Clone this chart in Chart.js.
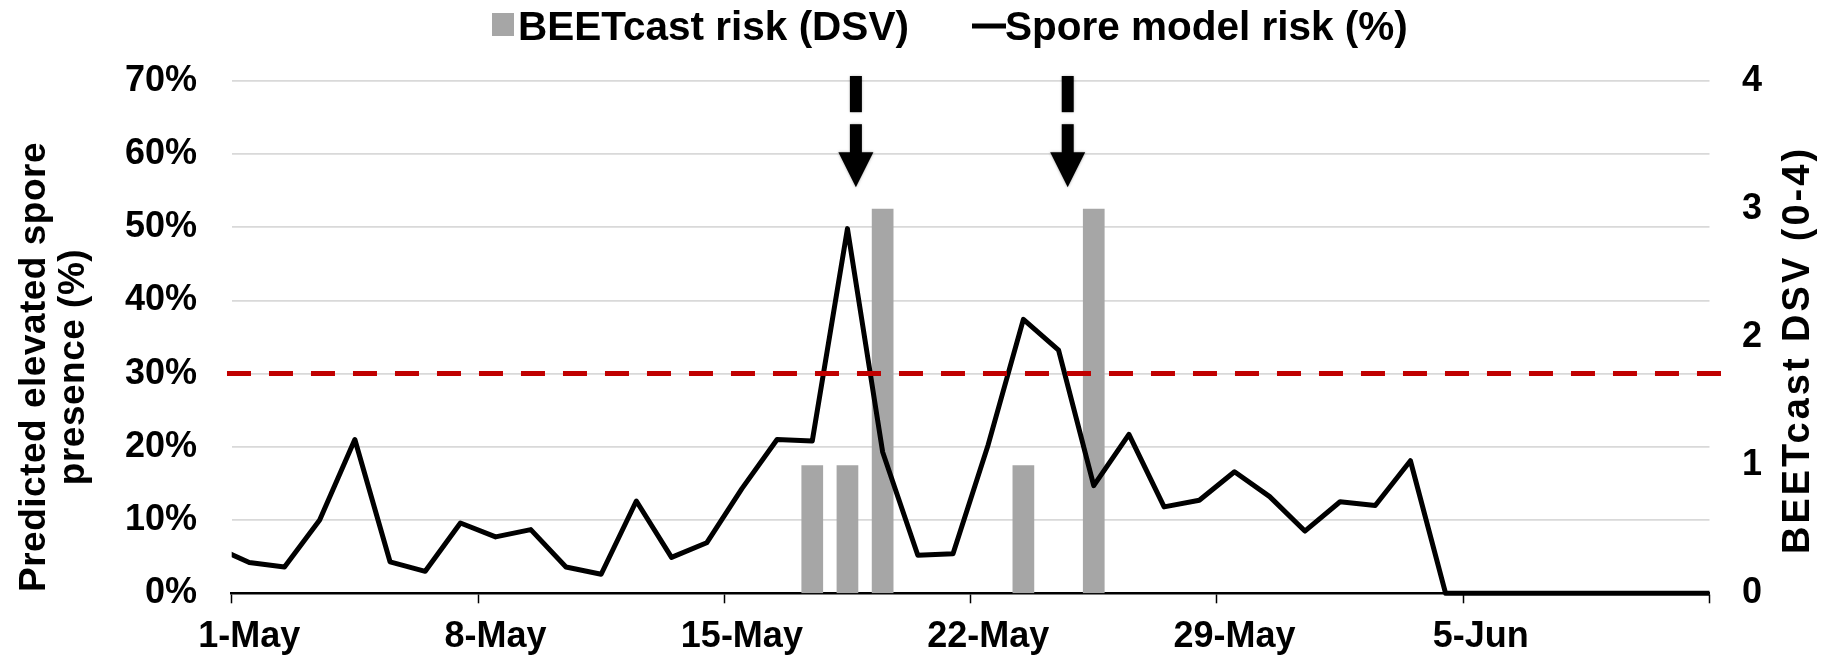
<!DOCTYPE html>
<html>
<head>
<meta charset="utf-8">
<script src="https://cdn.jsdelivr.net/npm/chart.js@4.4.1/dist/chart.umd.min.js"></script>
<style>
  html, body { margin: 0; padding: 0; background: #ffffff; }
  #wrap { width: 1828px; height: 658px; position: relative; }
</style>
</head>
<body>
<div id="wrap"><canvas id="chart"></canvas></div>
<script>
// ---- Data ----
// Daily dates; 30-Apr and 12-Jun sit just outside the visible axis (line is clipped there)
const DATES = [
  '30-Apr',
  '1-May','2-May','3-May','4-May','5-May','6-May','7-May','8-May','9-May','10-May',
  '11-May','12-May','13-May','14-May','15-May','16-May','17-May','18-May','19-May','20-May',
  '21-May','22-May','23-May','24-May','25-May','26-May','27-May','28-May','29-May','30-May','31-May',
  '1-Jun','2-Jun','3-Jun','4-Jun','5-Jun','6-Jun','7-Jun','8-Jun','9-Jun','10-Jun','11-Jun',
  '12-Jun'
];
// Spore model risk (%)
const SPORE_RISK = [
  6.4,
  4.2, 3.6, 10.0, 21.0, 4.3, 3.0, 9.6, 7.7, 8.7, 3.6,
  2.6, 12.6, 4.9, 6.9, 14.3, 21.0, 20.8, 49.8, 19.3, 5.2,
  5.4, 20.3, 37.4, 33.2, 14.7, 21.7, 11.8, 12.7, 16.6, 13.2, 8.5,
  12.5, 12.0, 18.1, 0, 0, 0, 0, 0, 0, 0, 0,
  0
];
// BEETcast risk (DSV, 0-4)
const DSV = [
  0,
  0, 0, 0, 0, 0, 0, 0, 0, 0, 0,
  0, 0, 0, 0, 0, 0, 1, 1, 3, 0,
  0, 0, 1, 0, 3, 0, 0, 0, 0, 0, 0,
  0, 0, 0, 0, 0, 0, 0, 0, 0, 0, 0,
  0
];
// Axis tick labels (one per week, the last tick has no label)
const X_TICK_LABELS = ['1-May', '8-May', '15-May', '22-May', '29-May', '5-Jun', ''];
const THRESHOLD = 30;                 // % — red dashed threshold line
const ARROW_DAYS = [17.74, 23.76];    // arrow annotations, days after 1-May

const FIRST_VISIBLE = DATES.indexOf('1-May');
const DAYS_SHOWN = DATES.indexOf('12-Jun') - FIRST_VISIBLE;   // 42
const toPoint = (v, i) => ({ x: i - FIRST_VISIBLE + 0.5, y: v });

const FONT = '"Liberation Sans", Arial, Helvetica, sans-serif';
Chart.defaults.font.family = FONT;
Chart.defaults.font.weight = 'bold';
Chart.defaults.color = '#000000';

const decorations = {
  id: 'decorations',
  afterDatasetsDraw(chart) {
    const ctx = chart.ctx;
    const xs = chart.scales.x, ys = chart.scales.y;
    ctx.save();
    // dashed down arrows
    ctx.fillStyle = '#000000';
    ctx.shadowColor = 'rgba(0,0,0,0.35)';
    ctx.shadowBlur = 3;
    ARROW_DAYS.forEach(d => {
      const cx = xs.getPixelForValue(d);
      const yA = ys.getPixelForValue(70.64);
      const yB = ys.getPixelForValue(65.7);
      const yC = ys.getPixelForValue(64.06);
      const yD = ys.getPixelForValue(60.24);
      const yT = ys.getPixelForValue(55.46);
      const hw = 6;
      ctx.fillRect(cx - hw, yA, 2 * hw, yB - yA);
      ctx.fillRect(cx - hw, yC, 2 * hw, yD - yC + 1);
      ctx.beginPath();
      ctx.moveTo(cx - 17.5, yD);
      ctx.lineTo(cx + 17.5, yD);
      ctx.lineTo(cx, yT);
      ctx.closePath();
      ctx.fill();
    });
    ctx.restore();
  },
  afterDraw(chart) {
    const ctx = chart.ctx;
    ctx.save();
    // legend
    ctx.fillStyle = '#A6A6A6';
    ctx.fillRect(492, 13, 22, 23);
    ctx.fillStyle = '#000000';
    ctx.font = 'bold 40.5px ' + FONT;
    ctx.textAlign = 'left';
    ctx.textBaseline = 'alphabetic';
    ctx.fillText(chart.data.datasets[0].label, 518, 40);
    ctx.strokeStyle = '#000000';
    ctx.lineWidth = 5;
    ctx.beginPath();
    ctx.moveTo(972, 26);
    ctx.lineTo(1006, 26);
    ctx.stroke();
    ctx.fillText(chart.data.datasets[1].label, 1005, 40);

    // axis titles
    ctx.textAlign = 'center';
    ctx.textBaseline = 'middle';
    const vText = (txt, x, y, spacing) => {
      ctx.save();
      ctx.letterSpacing = spacing + 'px';
      ctx.translate(x, y);
      ctx.rotate(-Math.PI / 2);
      ctx.fillText(txt, 0, 0);
      ctx.restore();
    };
    ctx.font = 'bold 37px ' + FONT;
    vText('Predicted elevated spore', 35, 367, 0.5);
    vText('presence (%)', 74, 367, 0.5);
    ctx.font = 'bold 38px ' + FONT;
    vText('BEETcast DSV (0-4)', 1799, 350, 3);
    ctx.restore();
  }
};

new Chart(document.getElementById('chart'), {
  data: {
    datasets: [
      {
        type: 'bar',
        label: 'BEETcast risk (DSV)',
        data: DSV.map(toPoint),
        yAxisID: 'y1',
        backgroundColor: '#A6A6A6',
        borderWidth: 0,
        categoryPercentage: 1,
        barPercentage: 0.617,
        order: 3
      },
      {
        type: 'line',
        label: 'Spore model risk (%)',
        data: SPORE_RISK.map(toPoint),
        yAxisID: 'y',
        borderColor: '#000000',
        borderWidth: 5,
        borderJoinStyle: 'round',
        pointRadius: 0,
        tension: 0,
        clip: { left: 0, right: 0, top: 20, bottom: 20 },
        order: 2
      },
      {
        type: 'line',
        label: 'Threshold',
        data: [{ x: -0.134, y: THRESHOLD }, { x: DAYS_SHOWN + 0.33, y: THRESHOLD }],
        yAxisID: 'y',
        borderColor: '#C00000',
        borderWidth: 5,
        borderDash: [24, 18],
        borderCapStyle: 'butt',
        pointRadius: 0,
        clip: false,
        order: 1
      }
    ]
  },
  options: {
    responsive: true,
    maintainAspectRatio: false,
    animation: false,
    events: [],
    layout: { padding: { left: 0, right: 0, top: 80.7, bottom: 0 } },
    plugins: {
      legend: { display: false },
      tooltip: { enabled: false },
      title: { display: false }
    },
    scales: {
      x: {
        type: 'linear',
        position: 'bottom',
        min: 0,
        max: DAYS_SHOWN,
        offset: false,
        bounds: 'ticks',
        afterFit(s) { s.height = 658 - 593.3; },
        ticks: {
          stepSize: 7,
          autoSkip: false,
          maxRotation: 0,
          minRotation: 0,
          labelOffset: 17.57,
          padding: 12,
          font: { size: 36, weight: 'bold' },
          color: '#000000',
          callback: (v) => X_TICK_LABELS[Math.round(v / 7)] ?? ''
        },
        grid: {
          display: true,
          offset: false,
          drawOnChartArea: false,
          drawTicks: true,
          tickLength: 10,
          tickWidth: 1.5,
          tickColor: '#000000',
          color: '#000000'
        },
        border: { display: true, color: '#000000', width: 2.5 }
      },
      y: {
        type: 'linear',
        position: 'left',
        min: 0,
        max: 70,
        afterFit(s) { s.width = 231.7; },
        ticks: {
          stepSize: 10,
          padding: 34.7,
          font: { size: 36, weight: 'bold' },
          color: '#000000',
          callback: (v) => v + '%'
        },
        grid: { color: '#d9d9d9', lineWidth: 1.7, drawTicks: false },
        border: { display: false }
      },
      y1: {
        type: 'linear',
        position: 'right',
        min: 0,
        max: 4,
        afterFit(s) { s.width = 1828 - 1709.5; },
        ticks: {
          stepSize: 1,
          padding: 32.5,
          font: { size: 36, weight: 'bold' },
          color: '#000000'
        },
        grid: { display: false, drawTicks: false },
        border: { display: false }
      }
    }
  },
  plugins: [decorations]
});
</script>
</body>
</html>
